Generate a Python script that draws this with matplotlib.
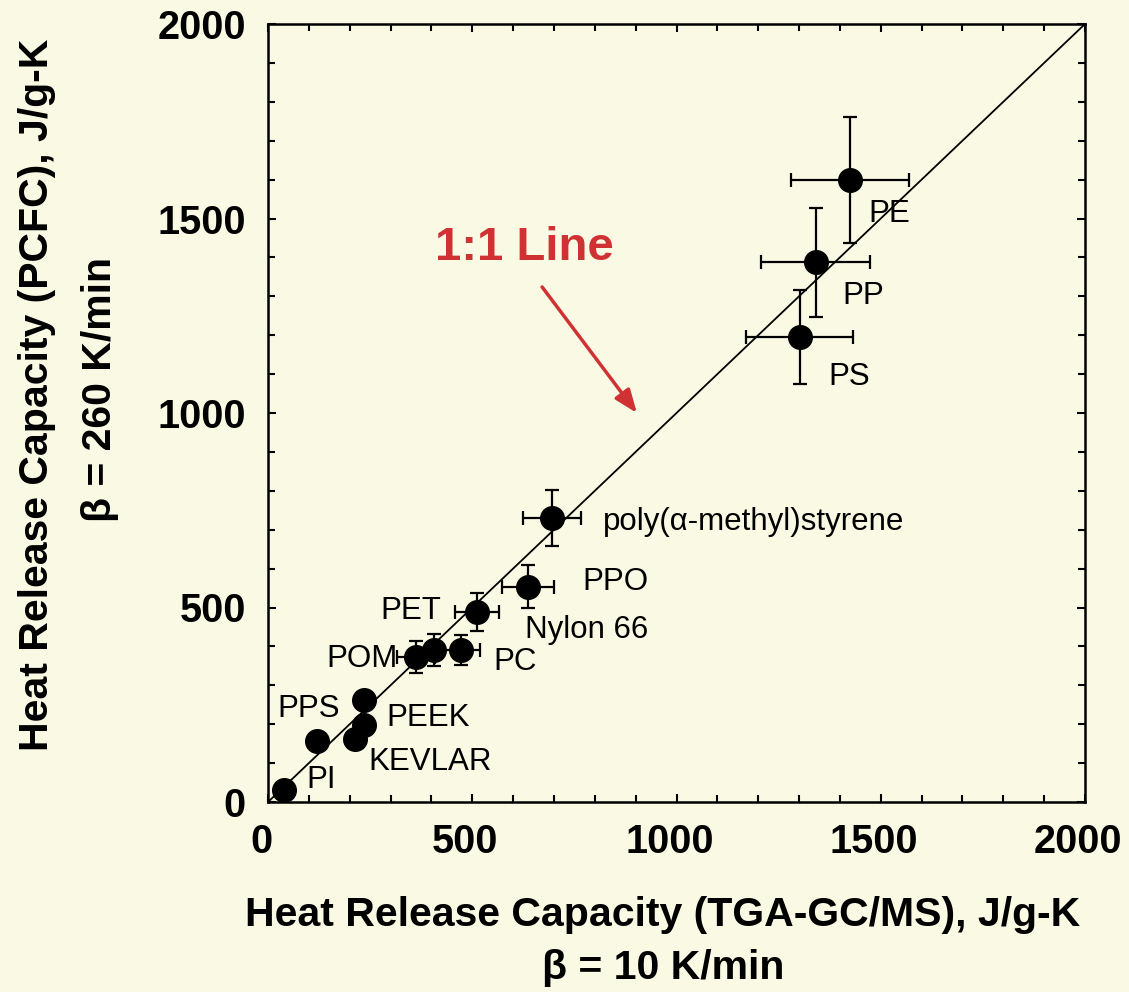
import matplotlib
matplotlib.use("Agg")
import matplotlib.pyplot as plt
from matplotlib.ticker import MultipleLocator
from matplotlib.transforms import ScaledTranslation

plt.rcParams['font.family'] = ['Liberation Sans', 'DejaVu Sans']

# Data (J/g-K)
names = ["PI", "PPS", "KEVLAR", "PEEK", "PEEK2", "POM", "POM2", "PC", "PET",
         "PPO", "poly(α-methyl)styrene", "PS", "PP", "PE"]
x_tga = [40, 120, 213, 235, 235, 362, 406, 472, 512, 636, 695, 1302, 1341, 1425]
y_pcfc = [30, 157, 162, 198, 262, 373, 391, 391, 488, 553, 730, 1195, 1388, 1599]
x_err = [0, 0, 0, 0, 0, 46, 20, 47, 54, 63, 70, 131, 133, 145]
y_err = [0, 0, 0, 0, 0, 42, 42, 38, 48, 55, 73, 120, 140, 162]

label_texts = ["PE", "PP", "PS", "poly(α-methyl)styrene", "PPO", "Nylon 66",
               "PET", "POM", "PC", "PPS", "PEEK", "KEVLAR", "PI"]
label_x = [1469, 1405, 1371, 820, 769, 629, 274, 142, 551, 24, 291, 245, 95]
label_y = [1512, 1301, 1093, 720, 566, 442, 491, 368, 360, 239, 216, 103, 57]

bg = "#FAFAE4"
red = "#D03234"

fig = plt.figure(figsize=(11.29, 9.92), dpi=100, facecolor=bg)
ax = fig.add_axes([268/1129, 1 - 802/992, (1085-268)/1129, (802-24)/992])
ax.set_facecolor(bg)

ax.plot([0, 2000], [0, 2000], color="black", lw=1.3, zorder=2)

ax.errorbar(x_tga, y_pcfc, xerr=x_err, yerr=y_err, fmt='o', color='black',
            markersize=17, elinewidth=1.6, capsize=5, capthick=1.6, zorder=3)

for t, lx, ly in zip(label_texts, label_x, label_y):
    ax.text(lx, ly, t, fontsize=22.5, ha='left', va='center', color='black')

ax.text(409, 1424, "1:1 Line", fontsize=34, fontweight='bold', color=red,
        ha='left', va='center')
ax.annotate("", xy=(903, 1000), xytext=(671, 1324),
            arrowprops=dict(arrowstyle="-|>,head_length=1.4,head_width=0.55",
                            color=red, lw=2.5, shrinkA=0, shrinkB=0))

ax.set_xlim(0, 2000)
ax.set_ylim(0, 2000)
ax.xaxis.set_major_locator(MultipleLocator(500))
ax.yaxis.set_major_locator(MultipleLocator(500))
ax.xaxis.set_minor_locator(MultipleLocator(100))
ax.yaxis.set_minor_locator(MultipleLocator(100))
ax.tick_params(which='both', direction='in', top=True, right=True, width=1.5)
ax.tick_params(which='major', length=6)
ax.tick_params(which='minor', length=5)
ax.tick_params(axis='x', which='major', pad=15, labelsize=28.5)
ax.tick_params(axis='y', which='major', pad=16, labelsize=28.5)
shift = ScaledTranslation(-7/100, 0, fig.dpi_scale_trans)
for lab in ax.get_xticklabels():
    lab.set_fontweight('bold')
    lab.set_transform(lab.get_transform() + shift)
for lab in ax.get_yticklabels():
    lab.set_fontweight('bold')
for s in ax.spines.values():
    s.set_linewidth(1.8)

fig.text(663/1129, 1 - 915/992, "Heat Release Capacity (TGA-GC/MS), J/g-K",
         fontsize=29.5, fontweight='bold', ha='center', va='center')
fig.text(663/1129, 1 - 968/992, "β = 10 K/min",
         fontsize=29.5, fontweight='bold', ha='center', va='center')
fig.text(37/1129, 1 - 395/992, "Heat Release Capacity (PCFC), J/g-K",
         fontsize=29.5, fontweight='bold', ha='center', va='center', rotation=90)
fig.text(100/1129, 1 - 390/992, "β = 260 K/min",
         fontsize=29.5, fontweight='bold', ha='center', va='center', rotation=90)

fig.savefig("out.png", dpi=100, facecolor=bg)
